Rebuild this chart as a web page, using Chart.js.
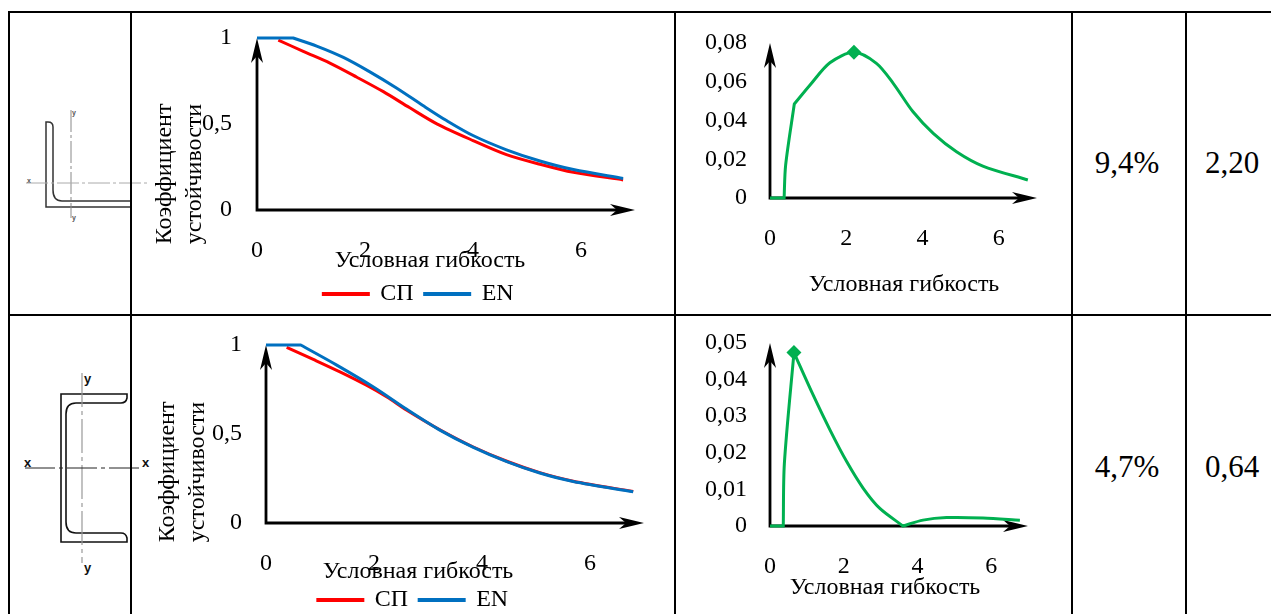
<!DOCTYPE html>
<html><head><meta charset="utf-8">
<style>
html,body{margin:0;padding:0;background:#fff;width:1271px;height:614px;overflow:hidden;position:relative}
canvas{position:absolute;display:block}
.ln{position:absolute;background:#000}
.val{position:absolute;font:31px "Liberation Serif";color:#000;transform:translate(-50%,-50%);white-space:nowrap}
svg{position:absolute;left:0;top:0}
</style>
<script src="https://cdn.jsdelivr.net/npm/chart.js@4/dist/chart.umd.min.js"></script>
</head><body>
<svg width="1271" height="614" font-family="Liberation Sans" font-weight="bold">
  <g fill="none">
    <path d="M46,122 V207 H131 V201 H62 Q53,201 53,190 V127 Q53,122 48,122 Z" stroke="#333" stroke-width="1.5"/>
    <path d="M71,110 V218" stroke="#888" stroke-width="1" stroke-dasharray="22 3 3 3"/>
    <path d="M26,183 H150" stroke="#aaa" stroke-width="1" stroke-dasharray="22 3 3 3"/>
    <path d="M61,394 H127 V398 Q126,403 121,403 H76 Q66,403 66,414 V522 Q66,533 76,533 H121 Q126,533 127,538 V542 H61 Z" stroke="#111" stroke-width="1.6"/>
    <path d="M82,373 V563" stroke="#999" stroke-width="1.2" stroke-dasharray="34 4 4 4"/>
    <path d="M25,468 H142" stroke="#222" stroke-width="1" stroke-dasharray="30 4 4 4"/>
  </g>
  <g fill="#555" font-size="7"><text x="72" y="115">y</text><text x="72" y="220">y</text><text x="27" y="183">x</text></g>
  <g fill="#111" font-size="13"><text x="84" y="383">y</text><text x="84" y="572">y</text><text x="24" y="467">x</text><text x="142" y="467">x</text></g>
</svg>
<div class="ln" style="left:8px;top:11px;width:1263px;height:2px"></div>
<div class="ln" style="left:8px;top:314px;width:1263px;height:2px"></div>
<div class="ln" style="left:8px;top:11px;width:2px;height:603px"></div>
<div class="ln" style="left:130px;top:11px;width:2px;height:603px"></div>
<div class="ln" style="left:674px;top:11px;width:2px;height:603px"></div>
<div class="ln" style="left:1071px;top:11px;width:2px;height:603px"></div>
<div class="ln" style="left:1185px;top:11px;width:2px;height:603px"></div>
<div class="val" style="left:1127px;top:163px">9,4%</div>
<div class="val" style="left:1232px;top:163px">2,20</div>
<div class="val" style="left:1127px;top:467px">4,7%</div>
<div class="val" style="left:1232px;top:467px">0,64</div>
<script>
// ---- data ----
const xTicks = [0, 2, 4, 6];
const phiTicks = [0, 0.5, 1];
const diffTicksAngle = [0, 0.02, 0.04, 0.06, 0.08];
const diffTicksChannel = [0, 0.01, 0.02, 0.03, 0.04, 0.05];
const xTitle = 'Условная гибкость';
const yTitle = ['Коэффициент', 'устойчивости'];
const seriesSP = 'СП';
const seriesEN = 'EN';

// angle section
const angleSPx = [0.395, 0.857, 1.35, 1.85, 2.34, 2.83, 3.33, 4.0, 4.62, 5.24, 5.86, 6.78];
const angleSPy = [0.988, 0.922, 0.854, 0.772, 0.688, 0.594, 0.501, 0.404, 0.322, 0.266, 0.219, 0.175];
const angleENx = [0, 0.67, 0.67, 1.105, 1.6, 2.09, 2.59, 3.08, 3.51, 4.0, 4.62, 5.24, 5.86, 6.78];
const angleENy = [1, 1, 1, 0.953, 0.887, 0.803, 0.708, 0.606, 0.52, 0.433, 0.35, 0.285, 0.235, 0.183];
const angleDiffX = [0, 0.37, 0.37, 0.41, 0.637, 0.637, 1.05, 1.57, 2.2, 2.79, 3.23, 3.75, 4.28, 4.89, 5.58, 6.76];
const angleDiffY = [0, 0, 0, 0.017, 0.0485, 0.0485, 0.0583, 0.0698, 0.0752, 0.0695, 0.0592, 0.0445, 0.0334, 0.0239, 0.0165, 0.0093];
const anglePeakIndex = 8;

// channel section
const channelSPx = [0.383, 0.876, 1.37, 1.86, 2.24, 2.6, 3.22, 3.84, 4.46, 5.07, 5.69, 6.8];
const channelSPy = [0.987, 0.919, 0.849, 0.774, 0.708, 0.635, 0.524, 0.427, 0.347, 0.283, 0.235, 0.177];
const channelENx = [0, 0.642, 0.642, 1.31, 1.99, 2.6, 3.22, 3.84, 4.46, 5.07, 5.69, 6.8];
const channelENy = [1, 1, 1, 0.887, 0.764, 0.64, 0.522, 0.425, 0.345, 0.281, 0.233, 0.175];
const channelDiffX = [0, 0.36, 0.36, 0.39, 0.65, 0.65, 1.17, 1.63, 2.08, 2.53, 2.98, 3.61, 3.61, 4.15, 4.79, 5.78, 6.78];
const channelDiffY = [0, 0, 0, 0.0171, 0.0474, 0.0474, 0.0358, 0.0262, 0.0176, 0.0103, 0.0048, 0, 0, 0.0016, 0.0023, 0.0022, 0.0016];
const channelPeakIndex = 4;

// ---- rendering ----
const SERIF = '"Liberation Serif"';
const TICK = 24, TITLE = 24;
const RED = '#ff0000', BLUE = '#0070c0', GREEN = '#00b050';
const LEGEND_H = 46;
Chart.defaults.font.family = SERIF;
Chart.defaults.color = '#000';

const pts = (xs, ys) => xs.map((x, i) => ({x, y: ys[i]}));
const fmt = v => String(+v.toFixed(3)).replace('.', ',');

function arrowHead(c, tx, ty, dx, dy) {
  const px = -dy, py = dx;
  c.beginPath();
  c.moveTo(tx, ty);
  c.lineTo(tx - dx*25 + px*6, ty - dy*25 + py*6);
  c.lineTo(tx - dx*18, ty - dy*18);
  c.lineTo(tx - dx*25 - px*6, ty - dy*25 - py*6);
  c.closePath();
  c.fill();
}
const axesPlugin = {
  id: 'arrowAxes',
  afterLayout(chart) {
    const t = chart.options.plugins.arrowAxes;
    if (chart.legend && t.legendShift) { chart.legend.left += t.legendShift; chart.legend.right += t.legendShift; }
  },
  beforeDatasetsDraw(chart) {
    const c = chart.ctx, a = chart.chartArea;
    c.save();
    c.strokeStyle = '#000'; c.fillStyle = '#000'; c.lineWidth = 2.8;
    c.beginPath();
    c.moveTo(a.left, a.top + 10); c.lineTo(a.left, a.bottom);
    c.lineTo(a.right - 10, a.bottom);
    c.stroke();
    arrowHead(c, a.right, a.bottom, 1, 0);
    arrowHead(c, a.left, a.top, 0, -1);
    c.restore();
  },
  afterDraw(chart) {
    const c = chart.ctx, t = chart.options.plugins.arrowAxes, box = chart.canvas.getBoundingClientRect();
    c.save();
    c.fillStyle = '#000'; c.textAlign = 'center'; c.textBaseline = 'middle';
    c.font = TITLE + 'px ' + SERIF;
    c.fillText(xTitle, t.xTitle[0] - box.left, t.xTitle[1] - box.top);
    if (t.yTitle) {
      yTitle.forEach((s, i) => {
        c.save();
        c.translate(t.yTitle[i] - box.left, t.yTitle[2] - box.top);
        c.rotate(-Math.PI / 2);
        c.fillText(s, 0, 0);
        c.restore();
      });
    }
    c.restore();
  }
};

function makeChart(g) {
  const cv = document.createElement('canvas');
  const W = g.R - g.L, H = g.B - g.T;
  cv.width = W; cv.height = H;
  cv.style.cssText = `left:${g.L}px;top:${g.T}px;width:${W}px;height:${H}px`;
  document.body.appendChild(cv);
  const legendH = g.legend ? LEGEND_H : 0;
  return new Chart(cv, {
    type: 'line',
    data: { datasets: g.datasets },
    plugins: [axesPlugin],
    options: {
      responsive: false, animation: false, devicePixelRatio: 1,
      layout: { padding: { top: g.top - g.T, right: g.R - g.right, left: 0, bottom: 0 } },
      elements: { line: { tension: 0.3, borderWidth: 3, borderCapStyle: 'butt' }, point: { radius: 0 } },
      scales: {
        x: {
          type: 'linear', min: 0, max: 7,
          grid: { display: false, drawTicks: false }, border: { display: false },
          afterBuildTicks: s => { s.ticks = xTicks.map(value => ({value})); },
          afterFit: s => { s.height = g.B - legendH - g.bottom; s.paddingLeft = 0; s.paddingRight = 0; },
          ticks: { font: { size: TICK }, padding: 26, maxRotation: 0, autoSkip: false, callback: fmt }
        },
        y: {
          type: 'linear', min: 0, max: g.ymax,
          grid: { display: false, drawTicks: false }, border: { display: false },
          afterBuildTicks: s => { s.ticks = g.yTicks.map(value => ({value})); },
          afterFit: s => { s.width = g.left - g.L; s.paddingTop = 0; s.paddingBottom = 0; },
          ticks: { font: { size: TICK }, padding: g.tickPad, autoSkip: false, callback: fmt }
        }
      },
      plugins: {
        tooltip: { enabled: false },
        arrowAxes: { xTitle: g.xTitle, yTitle: g.yTitle, legendShift: g.legendShift },
        legend: g.legend ? {
          display: true, position: 'bottom',
          labels: { boxWidth: 45, boxHeight: 1, padding: 11, font: { size: TICK }, color: '#000',
            sort: (a, b) => a.datasetIndex - b.datasetIndex }
        } : { display: false }
      }
    }
  });
}
const sp = (x, y) => ({ label: seriesSP, data: pts(x, y), borderColor: RED, backgroundColor: RED, clip: false, order: 2 });
const en = (x, y) => ({ label: seriesEN, data: pts(x, y), borderColor: BLUE, backgroundColor: BLUE, clip: false, order: 1 });
const diff = (x, y, peak) => ({
  label: 'Δ', data: pts(x, y), borderColor: GREEN, backgroundColor: GREEN, clip: false,
  pointStyle: 'rectRot', pointBackgroundColor: GREEN, pointBorderWidth: 0,
  pointRadius: c => c.dataIndex === peak ? 7.5 : 0
});

makeChart({ L:150, R:687, T:10, B:316, left:257, right:635, top:38, bottom:209, ymax:1, yTicks:phiTicks, tickPad:25, legend:true, legendShift:26,
  xTitle:[430,261], yTitle:[165,195,174], datasets:[sp(angleSPx,angleSPy), en(angleENx,angleENy)] });
makeChart({ L:150, R:676, T:318, B:622, left:266, right:644, top:345, bottom:522, ymax:1, yTicks:phiTicks, tickPad:24, legend:true, legendShift:16,
  xTitle:[418,572], yTitle:[168,198,472], datasets:[sp(channelSPx,channelSPy), en(channelENx,channelENy)] });
makeChart({ L:700, R:1060, T:20, B:310, left:770, right:1037, top:43, bottom:198, ymax:0.08, yTicks:diffTicksAngle, tickPad:23, legend:false,
  xTitle:[904,285], datasets:[diff(angleDiffX,angleDiffY,anglePeakIndex)] });
makeChart({ L:700, R:1050, T:320, B:610, left:770, right:1028, top:343, bottom:526, ymax:0.05, yTicks:diffTicksChannel, tickPad:23, legend:false,
  xTitle:[885,588], datasets:[diff(channelDiffX,channelDiffY,channelPeakIndex)] });
</script>
</body></html>
